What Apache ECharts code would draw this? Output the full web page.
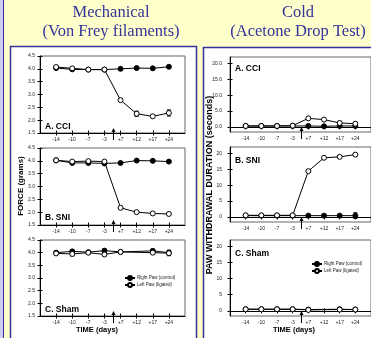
<!DOCTYPE html>
<html>
<head>
<meta charset="utf-8">
<script src="https://cdn.jsdelivr.net/npm/echarts@6/dist/echarts.min.js"></script>
<style>
html, body { margin: 0; padding: 0; background: #ffffcc; }
#main { width: 371px; height: 338px; }
</style>
</head>
<body>
<div id="main"></div>
<script>
// time points (days around surgery), plotted at positions 1..8
var days = ['-14', '-10', '-7', '-3', '+7', '+12', '+17', '+24'];
var dayPos = [1, 2, 3, 4, 5, 6, 7, 8];
var surgeryPos = 4.5; // arrow between -3 and +7
var durTicks = [0, 5, 10, 15, 20];

// Mechanical: FORCE (grams)
var forceCciRight = [4.03, 3.98, 3.97, 3.97, 4.00, 4.03, 4.02, 4.08];
var forceCciLeft = [4.07, 4.02, 3.97, 3.97, 2.78, 2.25, 2.15, 2.28];
var forceCciRightErr = [0.03, 0.03, 0.03, 0.03, 0.03, 0.03, 0.03, 0.04];
var forceCciLeftErr = [0.04, 0.03, 0.03, 0.03, 0.05, 0.10, 0.05, 0.12];

var forceSniRight = [4.02, 3.92, 3.92, 3.90, 3.92, 4.01, 4.00, 3.97];
var forceSniLeft = [4.02, 3.97, 3.99, 3.97, 2.17, 2.00, 1.95, 1.93];
var forceSniRightErr = [0.03, 0.03, 0.03, 0.03, 0.03, 0.03, 0.03, 0.03];
var forceSniLeftErr = [0.03, 0.03, 0.03, 0.03, 0.03, 0.03, 0.03, 0.03];

var forceShamRight = [4.00, 4.05, 4.02, 4.08, 4.03, null, 4.07, 4.00];
var forceShamLeft = [3.97, 3.95, 4.00, 3.93, 4.03, null, 4.00, 3.98];
var forceShamRightErr = [0.04, 0.07, 0.03, 0.07, 0.03, null, 0.07, 0.10];
var forceShamLeftErr = [0.05, 0.08, 0.04, 0.06, 0.03, null, 0.07, 0.10];

// Cold: PAW WITHDRAWAL DURATION (seconds)
var durCciRight = [0.3, 0.3, 0.3, 0.3, 0.3, 0.2, 0.3, 0.3];
var durCciLeft = [0.3, 0.3, 0.3, 0.4, 2.7, 2.3, 1.25, 1.0];
var durCciRightErr = [0.1, 0.1, 0.1, 0.1, 0.2, 0.2, 0.2, 0.2];
var durCciLeftErr = [0.1, 0.1, 0.1, 0.1, 0.4, 0.4, 0.5, 0.4];

var durSniRight = [0.4, 0.4, 0.4, 0.4, 0.4, 0.4, 0.4, 0.4];
var durSniLeft = [0.5, 0.5, 0.5, 0.5, 14.4, 18.6, 18.9, 19.6];
var durSniRightErr = [0.1, 0.1, 0.1, 0.1, 0.2, 0.2, 0.2, 0.9];
var durSniLeftErr = [0.1, 0.1, 0.1, 0.1, 0.3, 0.3, 0.3, 0.3];

var durShamRight = [0.5, 0.5, 0.5, 0.5, 0.4, null, 0.5, 0.4];
var durShamLeft = [0.5, 0.5, 0.5, 0.5, 0.3, null, 0.4, 0.4];
var durShamRightErr = [0.1, 0.1, 0.1, 0.1, 0.1, null, 0.1, 0.1];
var durShamLeftErr = [0.1, 0.1, 0.1, 0.1, 0.1, null, 0.1, 0.1];

var nameRight = 'Right Paw (control)';
var nameLeft = 'Left Paw (ligated)';

var chart = echarts.init(document.getElementById('main'));

// column layout
var cols = [
	{ left: 40, width: 145, min: 1.5, max: 4.5, interval: 0.5, labelMargin: 5 },
	{ left: 230, width: 142, min: -1.6, max: 22, labelMargin: 8 }
];

var panels = [
	{ col: 0, top: 56, height: 77, label: 'A. CCI', right: forceCciRight, left: forceCciLeft, rightErr: forceCciRightErr, leftErr: forceCciLeftErr, lx: 45, ly: 131, lva: 'bottom' },
	{ col: 0, top: 148, height: 77, label: 'B. SNI', right: forceSniRight, left: forceSniLeft, rightErr: forceSniRightErr, leftErr: forceSniLeftErr, lx: 45, ly: 222, lva: 'bottom' },
	{ col: 0, top: 240, height: 76, label: 'C. Sham', right: forceShamRight, left: forceShamLeft, rightErr: forceShamRightErr, leftErr: forceShamLeftErr, lx: 45, ly: 314, lva: 'bottom' },
	{ col: 1, top: 57, height: 75, label: 'A. CCI', right: durCciRight, left: durCciLeft, rightErr: durCciRightErr, leftErr: durCciLeftErr, lx: 235, ly: 64, lva: 'top', dec: 1 },
	{ col: 1, top: 147, height: 75, label: 'B. SNI', right: durSniRight, left: durSniLeft, rightErr: durSniRightErr, leftErr: durSniLeftErr, lx: 235, ly: 156, lva: 'top', dec: 0 },
	{ col: 1, top: 240, height: 76, label: 'C. Sham', right: durShamRight, left: durShamLeft, rightErr: durShamRightErr, leftErr: durShamLeftErr, lx: 235, ly: 249, lva: 'top', dec: 0 }
];

function pairs(vals) {
	return vals.map(function (v, i) { return [dayPos[i], v]; });
}
function errTriples(vals, errs) {
	var out = [];
	vals.forEach(function (v, i) {
		if (v != null && errs[i] != null) out.push([dayPos[i], v, errs[i]]);
	});
	return out;
}

function renderErr(params, api) {
	var x = api.value(0), y = api.value(1), e = api.value(2);
	var hi = api.coord([x, y + e]);
	var lo = api.coord([x, y - e]);
	var style = { stroke: '#000', lineWidth: 1 };
	return {
		type: 'group',
		children: [
			{ type: 'line', shape: { x1: hi[0], y1: hi[1], x2: lo[0], y2: lo[1] }, style: style },
			{ type: 'line', shape: { x1: hi[0] - 2, y1: hi[1], x2: hi[0] + 2, y2: hi[1] }, style: style },
			{ type: 'line', shape: { x1: lo[0] - 2, y1: lo[1], x2: lo[0] + 2, y2: lo[1] }, style: style }
		]
	};
}

function renderArrow(params, api) {
	var p = api.coord([api.value(0), api.value(1)]);
	var x = Math.round(p[0]) + 0.5, y = p[1];
	return {
		type: 'group',
		children: [
			{ type: 'line', shape: { x1: x, y1: y + 7, x2: x, y2: y - 2 }, style: { stroke: '#000', lineWidth: 1 } },
			{ type: 'polygon', shape: { points: [[x, y - 5], [x - 2, y - 1], [x + 2, y - 1]] }, style: { fill: '#000' } }
		]
	};
}

var grids = [], xAxes = [], yAxes = [], series = [], graphics = [];

panels.forEach(function (p, i) {
	var c = cols[p.col];
	grids.push({ left: c.left, width: c.width, top: p.top, height: p.height, show: true, borderColor: '#666', borderWidth: 1, backgroundColor: 'transparent' });

	var xBase = { type: 'value', gridIndex: i, min: 0, max: 9, position: 'bottom', splitLine: { show: false } };
	// main x axis: line, labels, outer ticks
	xAxes.push(Object.assign({}, xBase, {
		axisLine: { show: true, lineStyle: { color: '#000', width: 1 } },
		axisTick: { show: true, length: 2.5, customValues: dayPos, lineStyle: { color: '#000' } },
		axisLabel: { show: true, customValues: dayPos, margin: 4, fontSize: 5, color: '#222', fontFamily: 'Liberation Sans',
			formatter: function (v) { return days[v - 1] || ''; } }
	}));
	// inner ticks so they cross the axis
	xAxes.push(Object.assign({}, xBase, {
		axisLine: { show: false },
		axisTick: { show: true, inside: true, length: 2.5, customValues: dayPos, lineStyle: { color: '#000' } },
		axisLabel: { show: false }
	}));

	var yBase = { type: 'value', gridIndex: i, min: c.min, max: c.max, position: 'left', splitLine: { show: false } };
	var yLabel, yTick;
	if (p.col === 0) {
		yBase.interval = c.interval;
		yLabel = { formatter: function (v) { return v.toFixed(1); } };
		yTick = {};
	} else {
		var dec = p.dec;
		yLabel = { customValues: durTicks, formatter: function (v) { return v.toFixed(dec); } };
		yTick = { customValues: durTicks };
	}
	yAxes.push(Object.assign({}, yBase, {
		axisLine: { show: true, lineStyle: { color: '#000', width: 1 } },
		axisTick: Object.assign({ show: true, length: 2.5, lineStyle: { color: '#000' } }, yTick),
		axisLabel: Object.assign({ show: true, margin: c.labelMargin, fontSize: 5, color: '#222', fontFamily: 'Liberation Sans' }, yLabel)
	}));
	yAxes.push(Object.assign({}, yBase, {
		axisLine: { show: false },
		axisTick: Object.assign({ show: true, inside: true, length: 2.5, lineStyle: { color: '#000' } }, yTick),
		axisLabel: { show: false }
	}));

	var xi = 2 * i, yi = 2 * i;
	series.push({
		type: 'custom', name: 'err', xAxisIndex: xi, yAxisIndex: yi, z: 1,
		renderItem: renderErr, data: errTriples(p.right, p.rightErr).concat(errTriples(p.left, p.leftErr))
	});
	series.push({
		type: 'line', name: nameRight, xAxisIndex: xi, yAxisIndex: yi, z: 2,
		data: pairs(p.right), connectNulls: true,
		symbol: 'circle', symbolSize: 5,
		lineStyle: { color: '#000', width: 1 },
		itemStyle: { color: '#000', borderColor: '#000', borderWidth: 1 }
	});
	series.push({
		type: 'line', name: nameLeft, xAxisIndex: xi, yAxisIndex: yi, z: 3,
		data: pairs(p.left), connectNulls: true,
		symbol: 'circle', symbolSize: 5,
		lineStyle: { color: '#000', width: 1 },
		itemStyle: { color: '#fff', borderColor: '#000', borderWidth: 1 }
	});
	series.push({
		type: 'custom', name: 'surgery', xAxisIndex: xi, yAxisIndex: yi, z: 4, clip: false,
		renderItem: renderArrow, data: [[surgeryPos, c.min]]
	});

	graphics.push({
		type: 'text', left: p.lx, top: p.lva === 'top' ? p.ly : p.ly - 9, z: 10,
		style: { text: p.label, font: 'bold 8.5px "Liberation Sans", Arial, sans-serif', fill: '#000' }
	});
});

var blue = '#333399';
var bgGraphics = [
	{ type: 'rect', z: -10, shape: { x: 0, y: 0, width: 371, height: 338 }, style: { fill: '#ffffcc' } },
	{ type: 'rect', z: -9, shape: { x: 0, y: 0, width: 3, height: 338 }, style: { fill: '#ccccf5' } },
	{ type: 'line', z: -9, shape: { x1: 3.5, y1: 0, x2: 3.5, y2: 338 }, style: { stroke: blue, lineWidth: 1 } },
	{ type: 'rect', z: -8, shape: { x: 10.5, y: 46.5, width: 186, height: 320 }, style: { fill: '#fff', stroke: blue, lineWidth: 1.5 } },
	{ type: 'rect', z: -8, shape: { x: 203.5, y: 47.5, width: 200, height: 320 }, style: { fill: '#fff', stroke: blue, lineWidth: 1.5 } },
	{ type: 'text', z: 10, x: 111, y: 13, style: { text: 'Mechanical', font: '16.5px "Liberation Serif", "Times New Roman", serif', fill: blue, textAlign: 'center', textVerticalAlign: 'middle' } },
	{ type: 'text', z: 10, x: 111, y: 32, style: { text: '(Von Frey filaments)', font: '16.5px "Liberation Serif", "Times New Roman", serif', fill: blue, textAlign: 'center', textVerticalAlign: 'middle' } },
	{ type: 'text', z: 10, x: 298, y: 13, style: { text: 'Cold', font: '16.5px "Liberation Serif", "Times New Roman", serif', fill: blue, textAlign: 'center', textVerticalAlign: 'middle' } },
	{ type: 'text', z: 10, x: 298, y: 32, style: { text: '(Acetone Drop Test)', font: '16.5px "Liberation Serif", "Times New Roman", serif', fill: blue, textAlign: 'center', textVerticalAlign: 'middle' } },
	{ type: 'text', z: 10, x: 21, y: 186, rotation: Math.PI / 2, style: { text: 'FORCE (grams)', font: 'bold 8px "Liberation Sans", Arial, sans-serif', fill: '#000', textAlign: 'center', textVerticalAlign: 'middle' } },
	{ type: 'text', z: 10, x: 210, y: 185, rotation: Math.PI / 2, style: { text: 'PAW WITHDRAWAL DURATION (seconds)', font: 'bold 9px "Liberation Sans", Arial, sans-serif', fill: '#000', textAlign: 'center', textVerticalAlign: 'middle' } },
	{ type: 'text', z: 10, x: 97, y: 330, style: { text: 'TIME (days)', font: 'bold 7.5px "Liberation Sans", Arial, sans-serif', fill: '#000', textAlign: 'center', textVerticalAlign: 'middle' } },
	{ type: 'text', z: 10, x: 294, y: 330, style: { text: 'TIME (days)', font: 'bold 7.5px "Liberation Sans", Arial, sans-serif', fill: '#000', textAlign: 'center', textVerticalAlign: 'middle' } }
];

var legendBase = {
	orient: 'vertical', itemWidth: 10, itemHeight: 5, itemGap: 1, padding: 0,
	data: [nameRight, nameLeft],
	textStyle: { fontSize: 4.5, color: '#222', fontFamily: 'Liberation Sans', padding: [0, 0, 0, -3] }
};

var option = {
	animation: false,
	backgroundColor: '#ffffcc',
	grid: grids,
	xAxis: xAxes,
	yAxis: yAxes,
	legend: [
		Object.assign({}, legendBase, { left: 124, top: 275 }),
		Object.assign({}, legendBase, { left: 311, top: 261 })
	],
	graphic: bgGraphics.concat(graphics),
	series: series
};

chart.setOption(option);
</script>
</body>
</html>
